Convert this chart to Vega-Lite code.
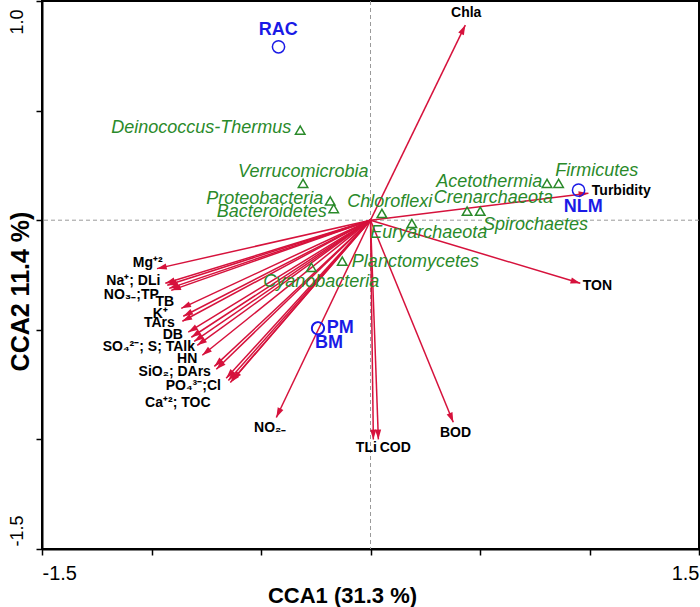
{
  "$schema": "https://vega.github.io/schema/vega-lite/v6.json",
  "width": 657,
  "height": 548,
  "autosize": {"type": "none"},
  "padding": {"left": 42, "top": 1, "right": 1, "bottom": 58},
  "config": {
    "view": {"stroke": "#000000", "strokeWidth": 2},
    "font": "Liberation Sans"
  },
  "datasets": {
    "zeros": [{"x": 0, "y": 0}],
    "env": [
      {"v": "Mg", "x": -0.975, "y": -0.221},
      {"v": "Na", "x": -0.937, "y": -0.288},
      {"v": "DLi", "x": -0.928, "y": -0.297},
      {"v": "NO3", "x": -0.919, "y": -0.311},
      {"v": "TP", "x": -0.910, "y": -0.320},
      {"v": "TB", "x": -0.864, "y": -0.402},
      {"v": "K", "x": -0.855, "y": -0.438},
      {"v": "TArs", "x": -0.859, "y": -0.461},
      {"v": "DB", "x": -0.832, "y": -0.511},
      {"v": "SO4", "x": -0.818, "y": -0.534},
      {"v": "S", "x": -0.805, "y": -0.553},
      {"v": "TAlk", "x": -0.791, "y": -0.571},
      {"v": "HN", "x": -0.768, "y": -0.616},
      {"v": "SiO2", "x": -0.713, "y": -0.667},
      {"v": "DArs", "x": -0.704, "y": -0.680},
      {"v": "PO4", "x": -0.659, "y": -0.721},
      {"v": "Cl", "x": -0.649, "y": -0.731},
      {"v": "Ca", "x": -0.640, "y": -0.740},
      {"v": "TOC", "x": -0.631, "y": -0.731},
      {"v": "NO2", "x": -0.430, "y": -0.900},
      {"v": "TLi", "x": 0.013, "y": -1.000},
      {"v": "COD", "x": 0.036, "y": -1.000},
      {"v": "BOD", "x": 0.378, "y": -0.922},
      {"v": "TON", "x": 0.958, "y": -0.288},
      {"v": "Turbidity", "x": 0.995, "y": 0.123},
      {"v": "Chla", "x": 0.433, "y": 0.890}
    ],
    "species": [
      {"s": "Deinococcus-Thermus", "x": -0.321, "y": 0.411},
      {"s": "Verrucomicrobia", "x": -0.308, "y": 0.168},
      {"s": "Proteobacteria", "x": -0.184, "y": 0.088},
      {"s": "Bacteroidetes", "x": -0.168, "y": 0.053},
      {"s": "Chloroflexi", "x": 0.052, "y": 0.031},
      {"s": "Euryarchaeota", "x": 0.189, "y": -0.015},
      {"s": "Planctomycetes", "x": -0.129, "y": -0.187},
      {"s": "Cyanobacteria", "x": -0.270, "y": -0.215},
      {"s": "Acetothermia", "x": 0.806, "y": 0.168},
      {"s": "Firmicutes", "x": 0.859, "y": 0.168},
      {"s": "Crenarchaeota", "x": 0.441, "y": 0.041},
      {"s": "Spirochaetes", "x": 0.501, "y": 0.041}
    ],
    "sites": [
      {"site": "RAC", "x": -0.420, "y": 0.791},
      {"site": "NLM", "x": 0.950, "y": 0.137},
      {"site": "PM", "x": -0.241, "y": -0.492},
      {"site": "BM", "x": -0.239, "y": -0.494}
    ],
    "envlab": [
      {"t": "Chla", "x": 0.437, "y": 0.945},
      {"t": "Turbidity", "x": 1.145, "y": 0.132},
      {"t": "TON", "x": 1.036, "y": -0.301},
      {"t": "BOD", "x": 0.388, "y": -0.973},
      {"t": "TLi", "x": -0.019, "y": -1.037},
      {"t": "COD", "x": 0.113, "y": -1.037},
      {"t": "NO₂₋", "x": -0.458, "y": -0.950},
      {"t": "Mg⁺²", "x": -1.017, "y": -0.196},
      {"t": "Na⁺; DLi", "x": -1.083, "y": -0.279},
      {"t": "NO₃₋;TP", "x": -1.092, "y": -0.342},
      {"t": "TB", "x": -0.939, "y": -0.374},
      {"t": "K⁺", "x": -0.960, "y": -0.429},
      {"t": "TArs", "x": -0.964, "y": -0.470},
      {"t": "DB", "x": -0.903, "y": -0.525},
      {"t": "SO₄²⁻; S; TAlk", "x": -1.012, "y": -0.580},
      {"t": "HN", "x": -0.837, "y": -0.635},
      {"t": "SiO₂; DArs", "x": -0.894, "y": -0.694},
      {"t": "PO₄³⁻;Cl", "x": -0.809, "y": -0.758},
      {"t": "Ca⁺²; TOC", "x": -0.880, "y": -0.836}
    ],
    "splab": [
      {"t": "Deinococcus-Thermus", "x": -0.773, "y": 0.420},
      {"t": "Verrucomicrobia", "x": -0.307, "y": 0.219},
      {"t": "Proteobacteria", "x": -0.483, "y": 0.096},
      {"t": "Bacteroidetes", "x": -0.451, "y": 0.037},
      {"t": "Chloroflexi", "x": 0.088, "y": 0.082},
      {"t": "Euryarchaeota", "x": 0.266, "y": -0.059},
      {"t": "Planctomycetes", "x": 0.205, "y": -0.192},
      {"t": "Cyanobacteria", "x": -0.225, "y": -0.283},
      {"t": "Acetothermia", "x": 0.542, "y": 0.174},
      {"t": "Firmicutes", "x": 1.033, "y": 0.224},
      {"t": "Crenarchaeota", "x": 0.561, "y": 0.100},
      {"t": "Spirochaetes", "x": 0.753, "y": -0.023}
    ],
    "sitelab": [
      {"t": "RAC", "x": -0.421, "y": 0.868},
      {"t": "NLM", "x": 0.972, "y": 0.059},
      {"t": "PM", "x": -0.138, "y": -0.493},
      {"t": "BM", "x": -0.190, "y": -0.562}
    ]
  },
  "layer": [
    {
      "data": {"name": "zeros"},
      "mark": {"type": "rule", "color": "#9a9a9a", "strokeDash": [4, 3], "strokeWidth": 1},
      "encoding": {
        "x": {"field": "x", "type": "quantitative", "title": "CCA1 (31.3 %)", "scale": {"domain": [-1.5, 1.5], "nice": false, "zero": false}}
      }
    },
    {
      "data": {"name": "zeros"},
      "mark": {"type": "rule", "color": "#9a9a9a", "strokeDash": [4, 3], "strokeWidth": 1},
      "encoding": {
        "y": {"field": "y", "type": "quantitative", "title": "CCA2 11.4 %)", "scale": {"domain": [-1.5, 1.0], "nice": false, "zero": false}}
      }
    },
    {
      "data": {"name": "env"},
      "mark": {"type": "rule", "color": "#d6123c", "strokeWidth": 1.5},
      "encoding": {
        "x": {
          "field": "x", "type": "quantitative", "title": "CCA1 (31.3 %)",
          "scale": {"domain": [-1.5, 1.5], "nice": false, "zero": false},
          "axis": {
            "values": [-1.5, -1, -0.5, 0, 0.5, 1, 1.5],
            "labelExpr": "datum.value == -1.5 ? '-1.5' : (datum.value == 1.5 ? '1.5' : '')",
            "labelFlush": true,
            "labelFontSize": 20,
            "labelColor": "#000000",
            "labelPadding": 8,
            "tickSize": 6,
            "tickColor": "#000000",
            "tickWidth": 1.5,
            "domainColor": "#000000",
            "domainWidth": 2,
            "grid": false,
            "titleFontSize": 22,
            "titleFontWeight": "bold",
            "titleColor": "#000000",
            "titleX": 300,
            "titleY": 46,
            "titleBaseline": "middle"
          }
        },
        "y": {
          "field": "y", "type": "quantitative", "title": "CCA2 11.4 %)",
          "scale": {"domain": [-1.5, 1.0], "nice": false, "zero": false},
          "axis": {
            "values": [-1.5, -1, -0.5, 0, 0.5, 1],
            "labelExpr": "datum.value == 1 ? '1.0' : (datum.value == -1.5 ? '-1.5' : '')",
            "labelAngle": 270,
            "labelAlign": {"condition": {"test": "datum.value > 0", "value": "right"}, "value": "left"},
            "labelBaseline": "bottom",
            "labelPadding": 10,
            "labelFontSize": 18,
            "labelColor": "#000000",
            "labelOffset": {"condition": {"test": "datum.value > 0", "value": 8}, "value": -3},
            "tickSize": 6,
            "tickColor": "#000000",
            "tickWidth": 1.5,
            "domainColor": "#000000",
            "domainWidth": 2,
            "grid": false,
            "titleFontSize": 25,
            "titleFontWeight": "bold",
            "titleColor": "#000000",
            "titleAngle": 270,
            "titleX": -22,
            "titleY": 290,
            "titleBaseline": "middle"
          }
        },
        "x2": {"datum": 0},
        "y2": {"datum": 0}
      }
    },
    {
      "data": {"name": "env"},
      "transform": [{"calculate": "atan2(datum.x, datum.y) * 180 / PI", "as": "ang"}],
      "mark": {"type": "point", "shape": "M0,0L0.32,1L-0.32,1Z", "filled": true, "color": "#d6123c", "opacity": 1, "size": 380},
      "encoding": {
        "x": {"field": "x", "type": "quantitative", "title": "CCA1 (31.3 %)", "scale": {"domain": [-1.5, 1.5], "nice": false, "zero": false}},
        "y": {"field": "y", "type": "quantitative", "title": "CCA2 11.4 %)", "scale": {"domain": [-1.5, 1.0], "nice": false, "zero": false}},
        "angle": {"field": "ang", "type": "quantitative", "scale": null}
      }
    },
    {
      "data": {"name": "species"},
      "mark": {"type": "point", "shape": "triangle-up", "filled": false, "color": "#2a8a2a", "strokeWidth": 1.5, "opacity": 1, "size": 90},
      "encoding": {
        "x": {"field": "x", "type": "quantitative", "title": "CCA1 (31.3 %)", "scale": {"domain": [-1.5, 1.5], "nice": false, "zero": false}},
        "y": {"field": "y", "type": "quantitative", "title": "CCA2 11.4 %)", "scale": {"domain": [-1.5, 1.0], "nice": false, "zero": false}}
      }
    },
    {
      "data": {"name": "sites"},
      "mark": {"type": "point", "shape": "circle", "filled": false, "color": "#1a1ae6", "strokeWidth": 1.5, "opacity": 1, "size": 150},
      "encoding": {
        "x": {"field": "x", "type": "quantitative", "title": "CCA1 (31.3 %)", "scale": {"domain": [-1.5, 1.5], "nice": false, "zero": false}},
        "y": {"field": "y", "type": "quantitative", "title": "CCA2 11.4 %)", "scale": {"domain": [-1.5, 1.0], "nice": false, "zero": false}}
      }
    },
    {
      "data": {"name": "envlab"},
      "mark": {"type": "text", "font": "Liberation Sans", "fontWeight": "bold", "fontSize": 14, "color": "#000000", "align": "center", "baseline": "middle"},
      "encoding": {
        "x": {"field": "x", "type": "quantitative", "title": "CCA1 (31.3 %)", "scale": {"domain": [-1.5, 1.5], "nice": false, "zero": false}},
        "y": {"field": "y", "type": "quantitative", "title": "CCA2 11.4 %)", "scale": {"domain": [-1.5, 1.0], "nice": false, "zero": false}},
        "text": {"field": "t"}
      }
    },
    {
      "data": {"name": "splab"},
      "mark": {"type": "text", "font": "Liberation Sans", "fontStyle": "italic", "fontSize": 18, "color": "#2a8a2a", "align": "center", "baseline": "middle"},
      "encoding": {
        "x": {"field": "x", "type": "quantitative", "title": "CCA1 (31.3 %)", "scale": {"domain": [-1.5, 1.5], "nice": false, "zero": false}},
        "y": {"field": "y", "type": "quantitative", "title": "CCA2 11.4 %)", "scale": {"domain": [-1.5, 1.0], "nice": false, "zero": false}},
        "text": {"field": "t"}
      }
    },
    {
      "data": {"name": "sitelab"},
      "mark": {"type": "text", "font": "Liberation Sans", "fontWeight": "bold", "fontSize": 18, "color": "#1a1ae6", "align": "center", "baseline": "middle"},
      "encoding": {
        "x": {"field": "x", "type": "quantitative", "title": "CCA1 (31.3 %)", "scale": {"domain": [-1.5, 1.5], "nice": false, "zero": false}},
        "y": {"field": "y", "type": "quantitative", "title": "CCA2 11.4 %)", "scale": {"domain": [-1.5, 1.0], "nice": false, "zero": false}},
        "text": {"field": "t"}
      }
    }
  ]
}
